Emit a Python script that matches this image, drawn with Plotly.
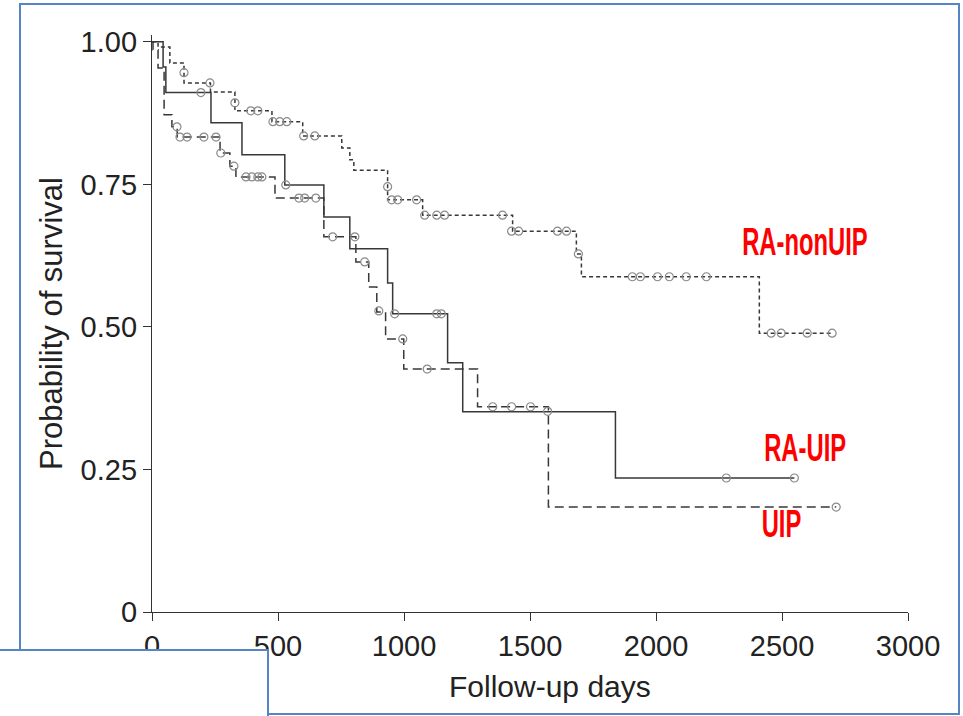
import plotly.graph_objects as go

# ---------------- data ----------------
# RA-UIP (solid)
ra_uip_t = [0, 44, 55, 234, 357, 527, 682, 785, 935, 955, 1173, 1233, 1839, 2549]
ra_uip_s = [1.0, 0.956, 0.911, 0.858, 0.802, 0.749, 0.693, 0.637, 0.577, 0.523, 0.437, 0.351, 0.235, 0.235]
ra_uip_cens_t = [194, 531, 963, 1130, 1148, 2279, 2549]
ra_uip_cens_s = [0.911, 0.749, 0.523, 0.523, 0.523, 0.235, 0.235]

# UIP (long dashes)
uip_t = [0, 4, 24, 48, 79, 100, 270, 309, 333, 488, 682, 809, 860, 892, 927, 999, 1292, 1573, 2715]
uip_s = [1.0, 0.986, 0.954, 0.872, 0.851, 0.833, 0.805, 0.782, 0.763, 0.726, 0.658, 0.614, 0.570,
         0.526, 0.479, 0.426, 0.360, 0.184, 0.184]
uip_cens_t = [99, 111, 139, 206, 254, 273, 325, 373, 396, 420, 436, 583, 606, 650, 717, 805, 844,
              900, 995, 1092, 1352, 1427, 1502, 1570, 2715]
uip_cens_s = [0.851, 0.833, 0.833, 0.833, 0.833, 0.805, 0.782, 0.763, 0.763, 0.763, 0.763, 0.726,
              0.726, 0.726, 0.658, 0.658, 0.614, 0.528, 0.479, 0.426, 0.360, 0.360, 0.360, 0.352, 0.184]

# RA-nonUIP (short dashes)
ranon_t = [0, 24, 71, 127, 232, 329, 476, 598, 753, 785, 801, 935, 1074, 1431, 1684, 1704, 2410, 2699]
ranon_s = [1.0, 0.991, 0.963, 0.928, 0.912, 0.879, 0.860, 0.835, 0.814, 0.793, 0.775, 0.723, 0.696,
           0.668, 0.628, 0.588, 0.489, 0.489]
ranon_cens_t = [127, 230, 329, 392, 420, 480, 507, 535, 602, 646, 935, 951, 975, 1050, 1082, 1130,
                1161, 1391, 1427, 1455, 1609, 1645, 1692, 1906, 1938, 2006, 2053, 2120, 2200, 2457,
                2497, 2600, 2699]
ranon_cens_s = [0.946, 0.928, 0.893, 0.879, 0.879, 0.860, 0.860, 0.860, 0.835, 0.835, 0.746, 0.723,
                0.723, 0.723, 0.696, 0.696, 0.696, 0.696, 0.668, 0.668, 0.668, 0.668, 0.628, 0.588,
                0.588, 0.588, 0.588, 0.588, 0.588, 0.489, 0.489, 0.489, 0.489]

x_ticks = [0, 500, 1000, 1500, 2000, 2500, 3000]
y_ticks = [0, 0.25, 0.5, 0.75, 1.0]
y_tick_text = ["0", "0.25", "0.50", "0.75", "1.00"]

labels = ["RA-nonUIP", "RA-UIP", "UIP"]
label_x = [2591, 2591, 2498]
label_y = [0.650, 0.289, 0.155]

x_title = "Follow-up days"
y_title = "Probability of survival"

# ---------------- figure ----------------
W, H = 963, 716
L, R, T, B = 152, 55, 35, 104
pw, ph = W - L - R, H - T - B

def px(x):
    return (x - L) / pw

def py(y):
    return (H - B - y) / ph

line_col = "#383838"
cens_col = "#8a8a8a"

fig = go.Figure()
curves = [
    (ra_uip_t, ra_uip_s, "solid", ra_uip_cens_t, ra_uip_cens_s),
    (uip_t, uip_s, "9px,5px", uip_cens_t, uip_cens_s),
    (ranon_t, ranon_s, "4px,3px", ranon_cens_t, ranon_cens_s),
]
for t, s, dash, ct, cs in curves:
    fig.add_trace(go.Scatter(x=t, y=s, mode="lines", line=dict(shape="hv", color=line_col, width=1.5, dash=dash),
                             showlegend=False, hoverinfo="skip"))
    fig.add_trace(go.Scatter(x=ct, y=cs, mode="markers",
                             marker=dict(symbol="circle-open", size=8, color=cens_col, line=dict(width=1.2, color=cens_col)),
                             showlegend=False, hoverinfo="skip"))

for txt, lx, ly in zip(labels, label_x, label_y):
    fig.add_annotation(x=lx, y=ly, xref="x", yref="y", text="<b>" + txt + "</b>", showarrow=False,
                       font=dict(family="Liberation Sans, Arial, sans-serif", size=39, color="#ff0000"))

tick_font = dict(family="Liberation Sans, Arial, sans-serif", size=29, color="#222222")
title_font = dict(family="Liberation Sans, Arial, sans-serif", size=30, color="#222222")
ytitle_font = dict(family="Liberation Sans, Arial, sans-serif", size=31, color="#222222")

# x-axis title placed as text (it sits right of the plot centre in the original)
fig.add_annotation(x=px(550), y=py(686), xref="paper", yref="paper", text=x_title, showarrow=False,
                   xanchor="center", yanchor="middle", font=title_font)

fig.update_xaxes(range=[0, 3000], tickvals=x_ticks, ticks="outside", ticklen=8, tickwidth=1.2, tickcolor="#333",
                 showline=True, linecolor="#333", linewidth=1.3, showgrid=False, zeroline=False,
                 tickfont=tick_font)
fig.update_yaxes(range=[0, 1.012], tickvals=y_ticks, ticktext=y_tick_text, ticks="outside", ticklen=8,
                 tickwidth=1.2, tickcolor="#333", showline=True, linecolor="#333", linewidth=1.3,
                 showgrid=False, zeroline=False, tickfont=tick_font,
                 title=dict(text=y_title, font=ytitle_font, standoff=8))

blue = "#5585c4"
# outer frame
fig.add_shape(type="rect", xref="paper", yref="paper", x0=px(20), x1=px(959), y0=py(714), y1=py(4),
              line=dict(color=blue, width=2), fillcolor="rgba(0,0,0,0)", layer="above")
# lower-left overlapping box
fig.add_shape(type="rect", xref="paper", yref="paper", x0=px(-10), x1=px(268), y0=py(730), y1=py(650),
              line=dict(color=blue, width=2), fillcolor="white", layer="above")

fig.update_layout(width=W, height=H, margin=dict(l=L, r=R, t=T, b=B), plot_bgcolor="white",
                  paper_bgcolor="white")

post = """
document.body.style.margin = '0';
document.body.style.padding = '0';
function condense() {
  var els = document.querySelectorAll('.annotation-text');
  els.forEach(function (el) {
    if (el.textContent.indexOf('UIP') === -1) { return; }
    el.style.transformBox = 'fill-box';
    el.style.transformOrigin = 'center';
    el.style.transform = 'scaleX(0.61)';
  });
}
condense();
setTimeout(condense, 50);
var gd = document.getElementById('{plot_id}');
if (gd && gd.on) { gd.on('plotly_afterplot', condense); }
"""

fig.write_html("out.html", post_script=post, config={"displayModeBar": False})
